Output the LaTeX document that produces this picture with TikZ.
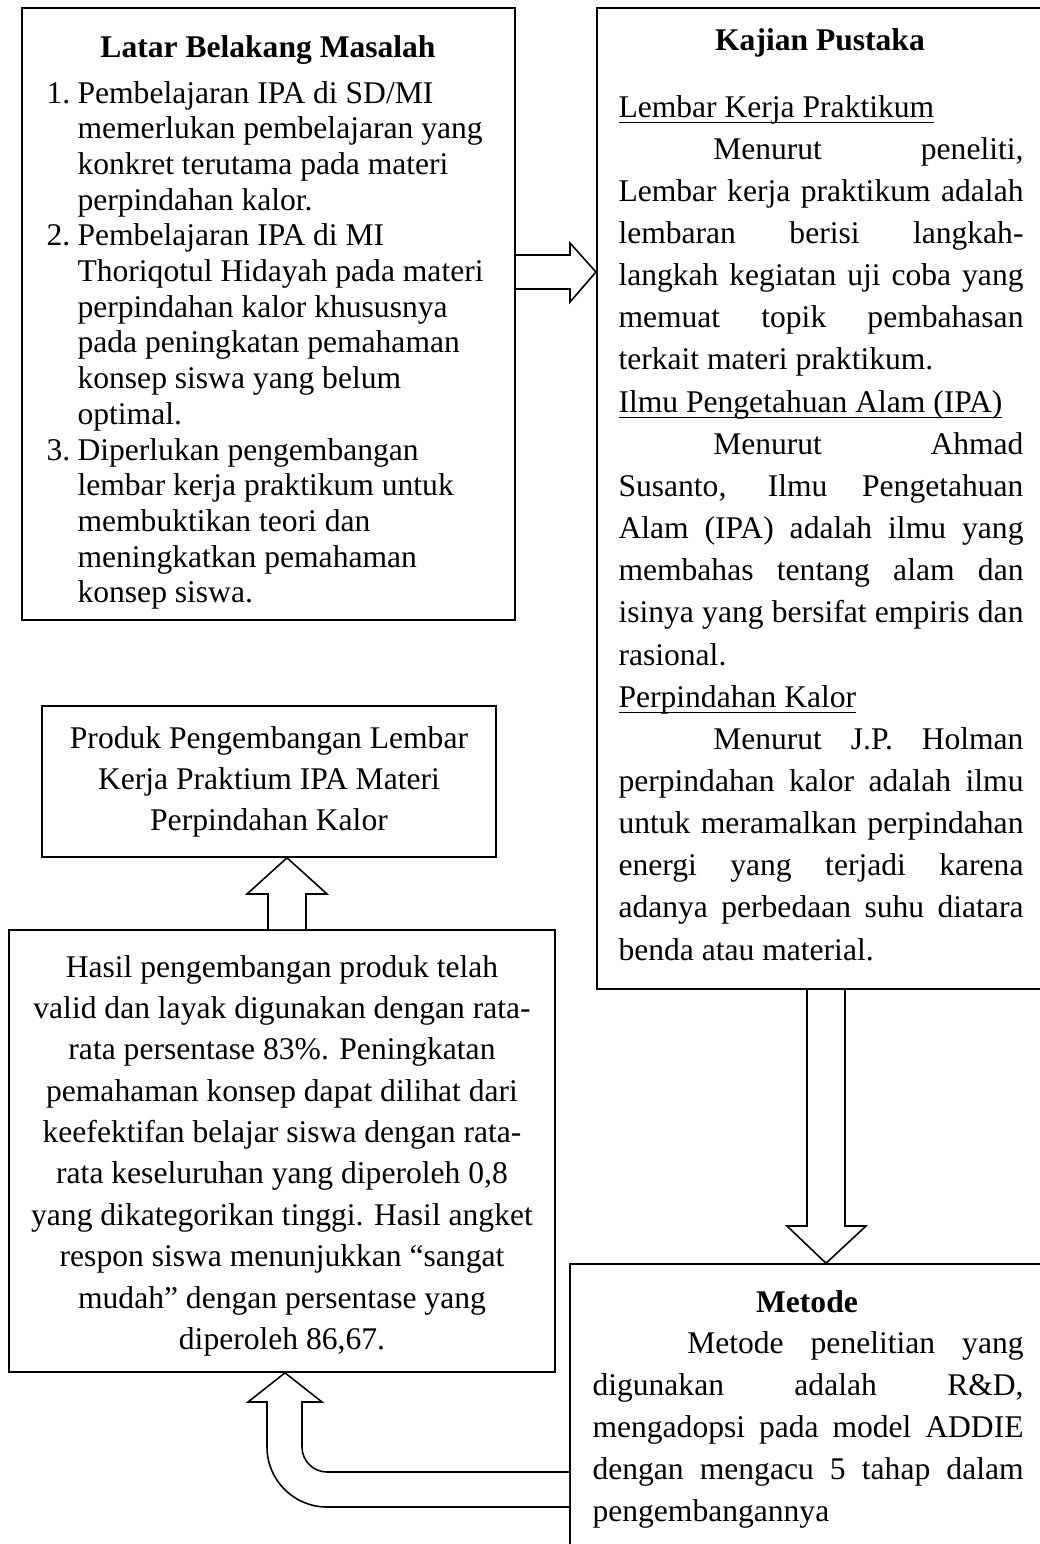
\documentclass[tikz,border=0pt]{standalone}
\usepackage{fontspec}
\setmainfont{Liberation Serif}
\usetikzlibrary{fit}
\newlength\myind
\setlength\myind{36pt}
\newlength\numw
\setlength\numw{11.8pt}
\newcommand\myJ[1]{\noindent\makebox[\linewidth][s]{#1}\par}
\newcommand\myL[1]{\noindent #1\par}
\newcommand\myI[1]{\noindent\hspace*{\myind}\makebox[\dimexpr\linewidth-\myind\relax][s]{#1}\par}
\newcommand\myN[2]{\noindent\makebox[\numw][l]{#1}#2\par}
\newcommand\myH[1]{\noindent\hspace*{\numw}#1\par}
\newcommand\myU[1]{\setbox0\hbox{#1}\rlap{\rule[-2.3pt]{\wd0}{0.5pt}}\box0}
\begin{document}
\begin{tikzpicture}[x=0.38pt,y=-0.38pt,
  every node/.append style={font=\fontsize{12pt}{14pt}\selectfont},
  boxthick/.style={draw, line width=0.8pt, inner sep=0pt},
  boxthin/.style={draw, line width=0.6pt, inner sep=0pt},
  blockarrow/.style={draw, fill=white, line width=0.6pt, line join=miter},
  txt/.style={inner sep=0pt, anchor=base west},
  ctxt/.style={inner sep=0pt, anchor=base},
]
\useasboundingbox (0,0) rectangle (1040,1544);
\clip (0,0) rectangle (1040,1544);
\fill[white] (0,0) rectangle (1040,1544);

% boxes
\node[boxthick, fit={(22,8)(515,620)}] (A) {};
\node[boxthick, fit={(597,8)(1045,989)}] (B) {};
\node[boxthin, fit={(42,706)(496,857)}] (C) {};
\node[boxthin, fit={(9,930)(555,1372)}] (D) {};
\node[boxthin, fit={(570,1264)(1045,1580)}] (E) {};

% Latar Belakang Masalah
\node[ctxt] (Atitle) at (268,57) {\bfseries Latar Belakang Masalah};
\node[txt] (Atxt) at (46,103) {\parbox[t]{176pt}{\fontsize{12pt}{13.57pt}\selectfont
\myN{1.}{Pembelajaran IPA di SD/MI}
\myH{memerlukan pembelajaran yang}
\myH{konkret terutama pada materi}
\myH{perpindahan kalor.}
\myN{2.}{Pembelajaran IPA di MI}
\myH{Thoriqotul Hidayah pada materi}
\myH{perpindahan kalor khususnya}
\myH{pada peningkatan pemahaman}
\myH{konsep siswa yang belum}
\myH{optimal.}
\myN{3.}{Diperlukan pengembangan}
\myH{lembar kerja praktikum untuk}
\myH{membuktikan teori dan}
\myH{meningkatkan pemahaman}
\myH{konsep siswa.}}};

% Kajian Pustaka
\node[ctxt] (Btitle) at (820,50) {\bfseries Kajian Pustaka};
\node[txt] (Btxt) at (618,117) {\parbox[t]{153.9pt}{\fontsize{12pt}{16.02pt}\selectfont
\myL{\myU{Lembar Kerja Praktikum}}
\myI{Menurut peneliti,}
\myJ{Lembar kerja praktikum adalah}
\myJ{lembaran berisi langkah-}
\myJ{langkah kegiatan uji coba yang}
\myJ{memuat topik pembahasan}
\myL{terkait materi praktikum.}
\myL{\myU{Ilmu Pengetahuan Alam (IPA)}}
\myI{Menurut Ahmad}
\myJ{Susanto, Ilmu Pengetahuan}
\myJ{Alam (IPA) adalah ilmu yang}
\myJ{membahas tentang alam dan}
\myJ{isinya yang bersifat empiris dan}
\myL{rasional.}
\myL{\myU{Perpindahan Kalor}}
\myI{Menurut J.P. Holman}
\myJ{perpindahan kalor adalah ilmu}
\myJ{untuk meramalkan perpindahan}
\myJ{energi yang terjadi karena}
\myJ{adanya perbedaan suhu diatara}
\myL{benda atau material.}}};

% Produk
\node[ctxt] (Ctxt) at (269,748) {\parbox[t]{170pt}{\fontsize{12pt}{15.58pt}\selectfont\centering
Produk Pengembangan Lembar\\
Kerja Praktium IPA Materi\\
Perpindahan Kalor\par}};

% Hasil
\node[ctxt] (Dtxt) at (282,977) {\parbox[t]{205pt}{\fontsize{12pt}{15.73pt}\selectfont\centering
Hasil pengembangan produk telah\\
valid dan layak digunakan dengan rata-\\
rata persentase 83\%. Peningkatan\\
pemahaman konsep dapat dilihat dari\\
keefektifan belajar siswa dengan rata-\\
rata keseluruhan yang diperoleh 0,8\\
yang dikategorikan tinggi. Hasil angket\\
respon siswa menunjukkan “sangat\\
mudah” dengan persentase yang\\
diperoleh 86,67.\par}};

% Metode
\node[ctxt] (Etitle) at (807,1312) {\bfseries Metode};
\node[txt] (Etxt) at (592,1353) {\parbox[t]{163.8pt}{\fontsize{12pt}{16.04pt}\selectfont
\myI{Metode penelitian yang}
\myJ{digunakan adalah R\&D,}
\myJ{mengadopsi pada model ADDIE}
\myJ{dengan mengacu 5 tahap dalam}
\myL{pengembangannya}}};

% arrows
\draw[blockarrow] (A.east |- 0,255) -- (570,255) -- (570,243) -- (B.west |- 0,272)
  -- (570,302) -- (570,289) -- (A.east |- 0,289);
\draw[blockarrow] (807,0 |- B.south) -- (807,1226) -- (787,1226) -- (826,0 |- E.north)
  -- (866,1226) -- (845,1226) -- (845,0 |- B.south);
\draw[blockarrow] (268,0 |- D.north) -- (268,894) -- (247,894) -- (287,0 |- C.south)
  -- (327,894) -- (306,894) -- (306,0 |- D.north);
\draw[blockarrow] (E.west |- 0,1472) -- (327,1472) .. controls (313.2,1472) and (302,1460.8) .. (302,1447)
  -- (302,1402) -- (322,1402) -- (285,0 |- D.south) -- (248,1402) -- (267,1402)
  -- (267,1447) .. controls (267,1480.1) and (293.9,1507) .. (327,1507) -- (E.west |- 0,1507);
\end{tikzpicture}
\end{document}
